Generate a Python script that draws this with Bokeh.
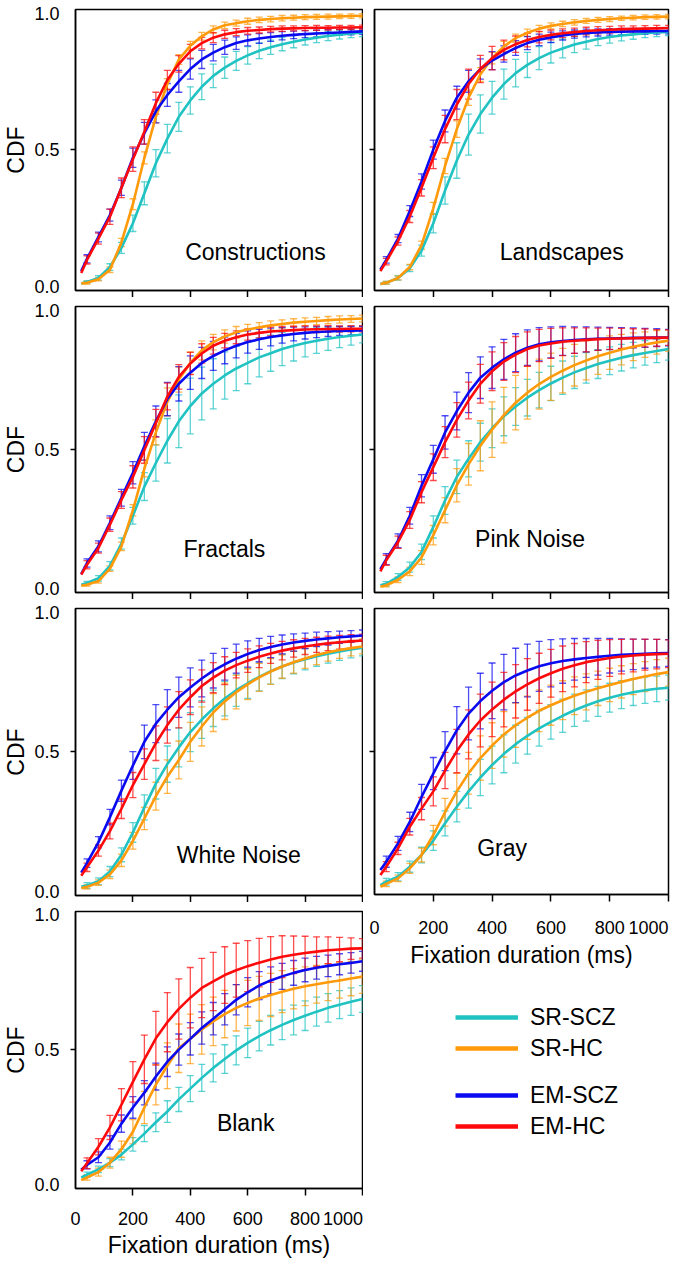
from bokeh.plotting import figure
from bokeh.models import (Range1d, FixedTicker, ColumnDataSource, Whisker, TeeHead,
                          Legend, LegendItem, NumeralTickFormatter)
from bokeh.layouts import column, row
from bokeh.embed import file_html
from bokeh.resources import INLINE
from bokeh.core.properties import value

FONT = "Liberation Sans"

# ---------------- data ----------------
X_CURVE = [20, 40, 80, 120, 160, 200, 240, 280, 320, 360, 400, 440, 480, 520,
           560, 600, 640, 680, 720, 760, 800, 840, 880, 920, 960, 1000]
X_BARS = [40, 80, 120, 160, 200, 240, 280, 320, 360, 400, 440, 480, 520,
          560, 600, 640, 680, 720, 760, 800, 840, 880, 920, 960, 1000]
X_TICKS = [0, 200, 400, 600, 800, 1000]
Y_TICKS = [0.0, 0.5, 1.0]

SERIES = ["SR-SCZ", "SR-HC", "EM-SCZ", "EM-HC"]
COLORS = ["#20c2c2", "#ff9a0a", "#0a0af0", "#ff0a0a"]
PANELS = ["Constructions", "Landscapes", "Fractals", "Pink Noise",
          "White Noise", "Gray", "Blank"]

# Constructions
CON_SR_SCZ = [0.010, 0.015, 0.030, 0.070, 0.140, 0.230, 0.340, 0.450, 0.540, 0.620, 0.680, 0.730, 0.770, 0.800, 0.825, 0.845, 0.862, 0.875, 0.886, 0.895, 0.903, 0.910, 0.916, 0.921, 0.925, 0.928]
CON_SR_HC = [0.010, 0.012, 0.025, 0.060, 0.160, 0.300, 0.470, 0.620, 0.740, 0.830, 0.880, 0.915, 0.940, 0.955, 0.963, 0.970, 0.975, 0.978, 0.981, 0.983, 0.985, 0.986, 0.987, 0.988, 0.989, 0.990]
CON_EM_SCZ = [0.055, 0.100, 0.180, 0.260, 0.360, 0.470, 0.560, 0.640, 0.700, 0.750, 0.795, 0.830, 0.855, 0.875, 0.890, 0.900, 0.907, 0.912, 0.917, 0.920, 0.923, 0.925, 0.927, 0.929, 0.931, 0.933]
CON_EM_HC = [0.048, 0.096, 0.174, 0.254, 0.360, 0.465, 0.565, 0.670, 0.755, 0.814, 0.860, 0.890, 0.910, 0.922, 0.930, 0.935, 0.938, 0.941, 0.943, 0.944, 0.945, 0.946, 0.946, 0.947, 0.947, 0.948]
CON_SR_SCZ_ERR = [0.005, 0.008, 0.012, 0.020, 0.030, 0.042, 0.050, 0.052, 0.053, 0.050, 0.047, 0.043, 0.039, 0.035, 0.032, 0.029, 0.026, 0.024, 0.022, 0.020, 0.018, 0.017, 0.016, 0.015, 0.014]
CON_SR_HC_ERR = [0.005, 0.006, 0.010, 0.015, 0.020, 0.022, 0.022, 0.020, 0.018, 0.016, 0.014, 0.013, 0.012, 0.011, 0.011, 0.010, 0.010, 0.010, 0.009, 0.009, 0.009, 0.009, 0.008, 0.008, 0.008]
CON_EM_SCZ_ERR = [0.015, 0.018, 0.022, 0.028, 0.035, 0.040, 0.042, 0.042, 0.040, 0.037, 0.033, 0.030, 0.026, 0.023, 0.020, 0.018, 0.016, 0.015, 0.014, 0.013, 0.012, 0.012, 0.011, 0.011, 0.011]
CON_EM_HC_ERR = [0.015, 0.020, 0.028, 0.036, 0.045, 0.045, 0.040, 0.035, 0.030, 0.025, 0.021, 0.018, 0.015, 0.013, 0.012, 0.011, 0.010, 0.010, 0.009, 0.009, 0.009, 0.008, 0.008, 0.008, 0.008]

# Landscapes
LAN_SR_SCZ = [0.008, 0.012, 0.030, 0.065, 0.130, 0.230, 0.350, 0.460, 0.555, 0.630, 0.690, 0.740, 0.780, 0.810, 0.835, 0.855, 0.870, 0.885, 0.895, 0.905, 0.912, 0.918, 0.922, 0.926, 0.929, 0.931]
LAN_SR_HC = [0.008, 0.012, 0.030, 0.070, 0.150, 0.285, 0.440, 0.575, 0.690, 0.775, 0.835, 0.878, 0.908, 0.928, 0.943, 0.953, 0.960, 0.966, 0.971, 0.975, 0.978, 0.981, 0.983, 0.985, 0.986, 0.987]
LAN_EM_SCZ = [0.060, 0.096, 0.174, 0.275, 0.383, 0.500, 0.605, 0.690, 0.750, 0.795, 0.826, 0.850, 0.872, 0.890, 0.902, 0.911, 0.918, 0.923, 0.927, 0.929, 0.931, 0.932, 0.933, 0.933, 0.934, 0.934]
LAN_EM_HC = [0.055, 0.090, 0.165, 0.255, 0.360, 0.470, 0.575, 0.665, 0.740, 0.795, 0.835, 0.865, 0.886, 0.901, 0.912, 0.920, 0.926, 0.930, 0.934, 0.937, 0.939, 0.941, 0.942, 0.943, 0.944, 0.945]
LAN_SR_SCZ_ERR = [0.005, 0.008, 0.012, 0.020, 0.035, 0.050, 0.065, 0.075, 0.070, 0.060, 0.055, 0.050, 0.046, 0.042, 0.038, 0.034, 0.030, 0.027, 0.024, 0.022, 0.020, 0.018, 0.016, 0.015, 0.014]
LAN_SR_HC_ERR = [0.005, 0.007, 0.010, 0.015, 0.022, 0.028, 0.030, 0.028, 0.025, 0.021, 0.018, 0.015, 0.013, 0.012, 0.011, 0.010, 0.010, 0.009, 0.009, 0.009, 0.008, 0.008, 0.008, 0.008, 0.008]
LAN_EM_SCZ_ERR = [0.012, 0.015, 0.020, 0.028, 0.035, 0.040, 0.042, 0.040, 0.037, 0.033, 0.030, 0.027, 0.024, 0.021, 0.019, 0.017, 0.015, 0.014, 0.013, 0.012, 0.012, 0.011, 0.011, 0.011, 0.010]
LAN_EM_HC_ERR = [0.012, 0.015, 0.022, 0.030, 0.040, 0.050, 0.055, 0.055, 0.050, 0.043, 0.036, 0.030, 0.025, 0.021, 0.018, 0.016, 0.015, 0.014, 0.013, 0.012, 0.012, 0.011, 0.011, 0.011, 0.010]

# Fractals
FRA_SR_SCZ = [0.012, 0.018, 0.035, 0.080, 0.160, 0.260, 0.365, 0.450, 0.530, 0.600, 0.655, 0.700, 0.735, 0.765, 0.790, 0.810, 0.830, 0.845, 0.860, 0.872, 0.882, 0.890, 0.897, 0.903, 0.908, 0.912]
FRA_SR_HC = [0.008, 0.012, 0.025, 0.070, 0.150, 0.280, 0.430, 0.560, 0.670, 0.750, 0.810, 0.855, 0.885, 0.905, 0.920, 0.930, 0.938, 0.945, 0.950, 0.955, 0.958, 0.961, 0.964, 0.966, 0.968, 0.970]
FRA_EM_SCZ = [0.050, 0.090, 0.150, 0.235, 0.325, 0.415, 0.510, 0.600, 0.680, 0.735, 0.775, 0.810, 0.835, 0.855, 0.872, 0.885, 0.895, 0.903, 0.909, 0.914, 0.918, 0.921, 0.923, 0.925, 0.926, 0.927]
FRA_EM_HC = [0.048, 0.084, 0.144, 0.228, 0.317, 0.400, 0.497, 0.593, 0.689, 0.760, 0.808, 0.844, 0.872, 0.890, 0.902, 0.912, 0.918, 0.923, 0.926, 0.928, 0.930, 0.931, 0.932, 0.932, 0.933, 0.933]
FRA_SR_SCZ_ERR = [0.006, 0.010, 0.015, 0.020, 0.030, 0.050, 0.065, 0.080, 0.095, 0.100, 0.095, 0.090, 0.085, 0.080, 0.075, 0.070, 0.065, 0.060, 0.055, 0.050, 0.046, 0.042, 0.038, 0.034, 0.030]
FRA_SR_HC_ERR = [0.005, 0.007, 0.010, 0.015, 0.020, 0.030, 0.045, 0.050, 0.045, 0.040, 0.034, 0.028, 0.024, 0.021, 0.019, 0.017, 0.016, 0.015, 0.014, 0.014, 0.013, 0.013, 0.013, 0.012, 0.012]
FRA_EM_SCZ_ERR = [0.015, 0.020, 0.025, 0.030, 0.040, 0.050, 0.055, 0.060, 0.062, 0.060, 0.056, 0.052, 0.048, 0.044, 0.040, 0.036, 0.032, 0.028, 0.025, 0.022, 0.020, 0.018, 0.016, 0.015, 0.014]
FRA_EM_HC_ERR = [0.015, 0.018, 0.024, 0.030, 0.040, 0.048, 0.050, 0.048, 0.044, 0.040, 0.035, 0.030, 0.026, 0.023, 0.020, 0.018, 0.016, 0.015, 0.014, 0.013, 0.012, 0.012, 0.011, 0.011, 0.011]

# Pink Noise
PIN_SR_SCZ = [0.010, 0.015, 0.040, 0.075, 0.130, 0.220, 0.315, 0.400, 0.465, 0.525, 0.575, 0.618, 0.653, 0.685, 0.712, 0.736, 0.757, 0.776, 0.792, 0.806, 0.818, 0.829, 0.838, 0.846, 0.853, 0.860]
PIN_SR_HC = [0.005, 0.010, 0.030, 0.060, 0.110, 0.190, 0.280, 0.370, 0.445, 0.512, 0.570, 0.622, 0.667, 0.703, 0.734, 0.760, 0.782, 0.802, 0.819, 0.834, 0.847, 0.858, 0.868, 0.876, 0.884, 0.890]
PIN_EM_SCZ = [0.068, 0.104, 0.170, 0.260, 0.368, 0.463, 0.560, 0.637, 0.703, 0.757, 0.793, 0.823, 0.847, 0.865, 0.877, 0.884, 0.889, 0.892, 0.895, 0.897, 0.898, 0.899, 0.900, 0.900, 0.901, 0.901]
PIN_EM_HC = [0.060, 0.100, 0.165, 0.245, 0.345, 0.435, 0.525, 0.605, 0.675, 0.735, 0.780, 0.815, 0.840, 0.860, 0.873, 0.880, 0.886, 0.890, 0.893, 0.895, 0.897, 0.898, 0.899, 0.900, 0.900, 0.901]
PIN_SR_SCZ_ERR = [0.008, 0.012, 0.018, 0.028, 0.040, 0.050, 0.060, 0.065, 0.068, 0.070, 0.070, 0.068, 0.066, 0.064, 0.062, 0.060, 0.058, 0.055, 0.052, 0.050, 0.048, 0.046, 0.044, 0.042, 0.040]
PIN_SR_HC_ERR = [0.006, 0.010, 0.015, 0.025, 0.035, 0.045, 0.060, 0.075, 0.090, 0.100, 0.100, 0.098, 0.095, 0.090, 0.085, 0.080, 0.075, 0.070, 0.065, 0.060, 0.055, 0.050, 0.046, 0.042, 0.038]
PIN_EM_SCZ_ERR = [0.020, 0.025, 0.030, 0.040, 0.050, 0.060, 0.068, 0.072, 0.075, 0.075, 0.072, 0.068, 0.064, 0.060, 0.056, 0.052, 0.048, 0.045, 0.042, 0.040, 0.038, 0.036, 0.034, 0.032, 0.030]
PIN_EM_HC_ERR = [0.018, 0.022, 0.030, 0.038, 0.048, 0.056, 0.062, 0.066, 0.070, 0.070, 0.068, 0.065, 0.062, 0.058, 0.054, 0.050, 0.046, 0.043, 0.040, 0.038, 0.036, 0.034, 0.032, 0.030, 0.028]

# White Noise
WHI_SR_SCZ = [0.015, 0.020, 0.035, 0.070, 0.130, 0.210, 0.300, 0.385, 0.455, 0.515, 0.570, 0.615, 0.655, 0.690, 0.720, 0.745, 0.768, 0.788, 0.805, 0.819, 0.831, 0.842, 0.851, 0.859, 0.866, 0.872]
WHI_SR_HC = [0.010, 0.015, 0.030, 0.060, 0.110, 0.180, 0.260, 0.340, 0.410, 0.470, 0.535, 0.590, 0.640, 0.680, 0.713, 0.741, 0.766, 0.787, 0.805, 0.820, 0.834, 0.846, 0.856, 0.864, 0.871, 0.877]
WHI_EM_SCZ = [0.066, 0.100, 0.175, 0.265, 0.360, 0.450, 0.535, 0.600, 0.650, 0.695, 0.730, 0.762, 0.790, 0.813, 0.833, 0.850, 0.864, 0.875, 0.884, 0.891, 0.897, 0.902, 0.906, 0.910, 0.913, 0.916]
WHI_EM_HC = [0.055, 0.085, 0.145, 0.215, 0.295, 0.380, 0.455, 0.530, 0.595, 0.650, 0.695, 0.735, 0.765, 0.790, 0.810, 0.826, 0.840, 0.852, 0.862, 0.870, 0.877, 0.883, 0.888, 0.892, 0.895, 0.898]
WHI_SR_SCZ_ERR = [0.010, 0.012, 0.018, 0.025, 0.035, 0.045, 0.055, 0.065, 0.070, 0.070, 0.068, 0.065, 0.062, 0.058, 0.054, 0.050, 0.046, 0.043, 0.040, 0.038, 0.036, 0.034, 0.032, 0.030, 0.029]
WHI_SR_HC_ERR = [0.008, 0.010, 0.015, 0.022, 0.030, 0.040, 0.050, 0.060, 0.068, 0.070, 0.070, 0.068, 0.065, 0.060, 0.055, 0.050, 0.046, 0.042, 0.039, 0.036, 0.034, 0.032, 0.030, 0.028, 0.027]
WHI_EM_SCZ_ERR = [0.015, 0.020, 0.028, 0.038, 0.050, 0.060, 0.068, 0.072, 0.072, 0.070, 0.066, 0.062, 0.057, 0.052, 0.047, 0.042, 0.038, 0.034, 0.031, 0.028, 0.026, 0.024, 0.022, 0.021, 0.020]
WHI_EM_HC_ERR = [0.015, 0.020, 0.028, 0.035, 0.045, 0.055, 0.062, 0.065, 0.065, 0.062, 0.058, 0.054, 0.050, 0.046, 0.042, 0.039, 0.036, 0.033, 0.031, 0.029, 0.027, 0.026, 0.025, 0.024, 0.023]

# Gray
GRA_SR_SCZ = [0.018, 0.030, 0.048, 0.084, 0.126, 0.178, 0.240, 0.300, 0.355, 0.405, 0.450, 0.490, 0.525, 0.555, 0.582, 0.605, 0.627, 0.647, 0.664, 0.679, 0.692, 0.703, 0.712, 0.719, 0.724, 0.728]
GRA_SR_HC = [0.012, 0.022, 0.042, 0.078, 0.126, 0.198, 0.280, 0.355, 0.420, 0.475, 0.520, 0.560, 0.593, 0.620, 0.645, 0.665, 0.683, 0.699, 0.713, 0.726, 0.738, 0.749, 0.759, 0.768, 0.777, 0.784]
GRA_EM_SCZ = [0.072, 0.102, 0.168, 0.245, 0.335, 0.419, 0.500, 0.575, 0.635, 0.680, 0.717, 0.748, 0.772, 0.790, 0.805, 0.816, 0.824, 0.830, 0.835, 0.839, 0.843, 0.846, 0.848, 0.850, 0.852, 0.853]
GRA_EM_HC = [0.054, 0.084, 0.150, 0.228, 0.293, 0.355, 0.430, 0.500, 0.560, 0.610, 0.650, 0.685, 0.715, 0.740, 0.762, 0.780, 0.796, 0.809, 0.820, 0.828, 0.835, 0.840, 0.844, 0.847, 0.849, 0.850]
GRA_SR_SCZ_ERR = [0.012, 0.015, 0.020, 0.028, 0.035, 0.045, 0.055, 0.060, 0.065, 0.068, 0.068, 0.068, 0.066, 0.064, 0.062, 0.060, 0.058, 0.056, 0.054, 0.052, 0.050, 0.048, 0.047, 0.046, 0.045]
GRA_SR_HC_ERR = [0.010, 0.012, 0.018, 0.025, 0.035, 0.050, 0.065, 0.075, 0.080, 0.082, 0.082, 0.080, 0.078, 0.075, 0.072, 0.070, 0.068, 0.065, 0.062, 0.060, 0.058, 0.056, 0.054, 0.052, 0.050]
GRA_EM_SCZ_ERR = [0.020, 0.025, 0.035, 0.045, 0.058, 0.070, 0.085, 0.095, 0.100, 0.100, 0.100, 0.098, 0.095, 0.090, 0.085, 0.080, 0.075, 0.070, 0.066, 0.062, 0.058, 0.055, 0.052, 0.050, 0.048]
GRA_EM_HC_ERR = [0.018, 0.022, 0.030, 0.040, 0.052, 0.065, 0.078, 0.088, 0.095, 0.098, 0.098, 0.096, 0.093, 0.090, 0.086, 0.082, 0.078, 0.074, 0.070, 0.066, 0.062, 0.059, 0.056, 0.053, 0.050]

# Blank
BLA_SR_SCZ = [0.025, 0.035, 0.055, 0.080, 0.110, 0.148, 0.188, 0.230, 0.270, 0.315, 0.355, 0.395, 0.432, 0.465, 0.497, 0.525, 0.550, 0.572, 0.592, 0.610, 0.626, 0.641, 0.655, 0.667, 0.678, 0.688]
BLA_SR_HC = [0.015, 0.025, 0.045, 0.080, 0.130, 0.195, 0.285, 0.370, 0.440, 0.505, 0.540, 0.575, 0.605, 0.632, 0.655, 0.673, 0.690, 0.703, 0.715, 0.726, 0.735, 0.743, 0.750, 0.757, 0.764, 0.771]
BLA_EM_SCZ = [0.054, 0.072, 0.100, 0.155, 0.225, 0.285, 0.340, 0.400, 0.455, 0.500, 0.540, 0.580, 0.615, 0.650, 0.685, 0.713, 0.738, 0.757, 0.772, 0.785, 0.796, 0.804, 0.811, 0.817, 0.822, 0.828]
BLA_EM_HC = [0.048, 0.078, 0.139, 0.211, 0.295, 0.380, 0.464, 0.542, 0.602, 0.651, 0.693, 0.729, 0.753, 0.777, 0.795, 0.810, 0.823, 0.835, 0.845, 0.852, 0.859, 0.864, 0.869, 0.872, 0.875, 0.876]
BLA_SR_SCZ_ERR = [0.010, 0.012, 0.015, 0.020, 0.025, 0.030, 0.035, 0.040, 0.045, 0.048, 0.050, 0.052, 0.053, 0.054, 0.055, 0.055, 0.055, 0.055, 0.055, 0.055, 0.054, 0.053, 0.052, 0.051, 0.050]
BLA_SR_HC_ERR = [0.010, 0.015, 0.020, 0.030, 0.045, 0.060, 0.075, 0.085, 0.090, 0.092, 0.092, 0.090, 0.088, 0.086, 0.084, 0.082, 0.080, 0.078, 0.075, 0.072, 0.070, 0.068, 0.066, 0.064, 0.062]
BLA_EM_SCZ_ERR = [0.015, 0.020, 0.025, 0.032, 0.040, 0.045, 0.050, 0.055, 0.058, 0.060, 0.060, 0.060, 0.058, 0.056, 0.054, 0.052, 0.050, 0.048, 0.046, 0.044, 0.042, 0.040, 0.039, 0.038, 0.037]
BLA_EM_HC_ERR = [0.020, 0.030, 0.045, 0.060, 0.075, 0.090, 0.100, 0.110, 0.112, 0.112, 0.110, 0.108, 0.105, 0.100, 0.095, 0.090, 0.085, 0.078, 0.070, 0.062, 0.055, 0.050, 0.045, 0.040, 0.036]

PANEL_CURVES = [
    [CON_SR_SCZ, CON_SR_HC, CON_EM_SCZ, CON_EM_HC],
    [LAN_SR_SCZ, LAN_SR_HC, LAN_EM_SCZ, LAN_EM_HC],
    [FRA_SR_SCZ, FRA_SR_HC, FRA_EM_SCZ, FRA_EM_HC],
    [PIN_SR_SCZ, PIN_SR_HC, PIN_EM_SCZ, PIN_EM_HC],
    [WHI_SR_SCZ, WHI_SR_HC, WHI_EM_SCZ, WHI_EM_HC],
    [GRA_SR_SCZ, GRA_SR_HC, GRA_EM_SCZ, GRA_EM_HC],
    [BLA_SR_SCZ, BLA_SR_HC, BLA_EM_SCZ, BLA_EM_HC],
]
PANEL_ERRS = [
    [CON_SR_SCZ_ERR, CON_SR_HC_ERR, CON_EM_SCZ_ERR, CON_EM_HC_ERR],
    [LAN_SR_SCZ_ERR, LAN_SR_HC_ERR, LAN_EM_SCZ_ERR, LAN_EM_HC_ERR],
    [FRA_SR_SCZ_ERR, FRA_SR_HC_ERR, FRA_EM_SCZ_ERR, FRA_EM_HC_ERR],
    [PIN_SR_SCZ_ERR, PIN_SR_HC_ERR, PIN_EM_SCZ_ERR, PIN_EM_HC_ERR],
    [WHI_SR_SCZ_ERR, WHI_SR_HC_ERR, WHI_EM_SCZ_ERR, WHI_EM_HC_ERR],
    [GRA_SR_SCZ_ERR, GRA_SR_HC_ERR, GRA_EM_SCZ_ERR, GRA_EM_HC_ERR],
    [BLA_SR_SCZ_ERR, BLA_SR_HC_ERR, BLA_EM_SCZ_ERR, BLA_EM_HC_ERR],
]

# ---------------- layout / style ----------------
LABEL_POS = [(627, 0.125), (637, 0.125), (519, 0.14), (529, 0.175),
             (569, 0.128), (434, 0.152), (593, 0.227)]
Y_LO, Y_HI = -0.016, 1.013
TICK_FS = "18px"
TEXT_FS = "23px"
END_LABEL_AT = 932   # the last tick label is drawn flush with the frame edge


def make_panel(i, width, height, mb, show_x, show_y, xstand=14, tstand=2):
    top, bottom, left, right = mb
    p = figure(width=width, height=height, x_range=Range1d(0, 1000),
               y_range=Range1d(Y_LO, Y_HI), output_backend="svg",
               toolbar_location=None, min_border_top=top,
               min_border_bottom=bottom, min_border_left=left,
               min_border_right=right)
    p.grid.visible = False
    p.outline_line_color = "black"
    p.outline_line_width = 1.5
    p.background_fill_color = "white"
    p.border_fill_color = "white"

    xa = p.xaxis[0]
    xa.major_tick_out = 0
    xa.major_tick_in = 0
    xa.minor_tick_out = 7
    xa.minor_tick_in = 0
    xa.minor_tick_line_color = "black"
    xa.minor_tick_line_width = 1.5
    xa.axis_line_color = "black"
    xa.axis_line_width = 1.5
    if show_x:
        label_ticks = X_TICKS[:-1] + [END_LABEL_AT]
        xa.ticker = FixedTicker(ticks=label_ticks, minor_ticks=X_TICKS[1:])
        xa.major_label_overrides = {END_LABEL_AT: str(X_TICKS[-1])}
        xa.major_label_text_font = FONT
        xa.major_label_text_font_size = TICK_FS
        xa.major_label_text_color = "black"
        xa.major_label_standoff = xstand
        xa.axis_label = "Fixation duration (ms)"
        xa.axis_label_text_font = FONT
        xa.axis_label_text_font_size = TEXT_FS
        xa.axis_label_text_font_style = "normal"
        xa.axis_label_text_color = "black"
        xa.axis_label_standoff = tstand
    else:
        xa.ticker = FixedTicker(ticks=X_TICKS, minor_ticks=X_TICKS[1:])
        xa.major_label_overrides = {t: "" for t in X_TICKS}
        xa.major_label_text_font_size = "0px"
        xa.major_label_standoff = 0

    ya = p.yaxis[0]
    ya.ticker = FixedTicker(ticks=Y_TICKS, minor_ticks=Y_TICKS[1:2])
    ya.formatter = NumeralTickFormatter(format="0.0")
    ya.major_tick_out = 0
    ya.major_tick_in = 0
    ya.minor_tick_out = 5
    ya.minor_tick_in = 0
    ya.minor_tick_line_color = "black"
    ya.minor_tick_line_width = 1.5
    ya.axis_line_color = "black"
    ya.axis_line_width = 1.5
    if show_y:
        ya.major_label_text_font = FONT
        ya.major_label_text_font_size = TICK_FS
        ya.major_label_text_color = "black"
        ya.major_label_standoff = 11
        ya.axis_label = "CDF"
        ya.axis_label_text_font = FONT
        ya.axis_label_text_font_size = TEXT_FS
        ya.axis_label_text_font_style = "normal"
        ya.axis_label_text_color = "black"
        ya.axis_label_standoff = 2
    else:
        ya.major_label_overrides = {t: "" for t in Y_TICKS}
        ya.major_label_text_font_size = "0px"
        ya.major_label_standoff = 0

    curves = PANEL_CURVES[i]
    errs = PANEL_ERRS[i]
    for curve, color in zip(curves, COLORS):
        p.line(X_CURVE, curve, line_color=color, line_width=2.6)
    for curve, err, color in zip(curves, errs, COLORS):
        mean = curve[1:]
        src = ColumnDataSource(dict(
            x=X_BARS,
            upper=[m + e for m, e in zip(mean, err)],
            lower=[m - e for m, e in zip(mean, err)]))
        w = Whisker(source=src, base="x", upper="upper", lower="lower",
                    line_color=color, line_alpha=0.72, line_width=1.3,
                    upper_head=TeeHead(size=7, line_color=color,
                                       line_alpha=0.72, line_width=1.3),
                    lower_head=TeeHead(size=7, line_color=color,
                                       line_alpha=0.72, line_width=1.3))
        p.add_layout(w)

    lx, ly = LABEL_POS[i]
    p.text(x=[lx], y=[ly], text=[PANELS[i]], text_font=value(FONT),
           text_font_size=TEXT_FS, text_align="center",
           text_baseline="middle", text_color="black")
    return p


LW, RW = 363, 307
GRAY_H = 371
f1L = make_panel(0, LW, 297, (9, 7, 67, 1), False, True)
f1R = make_panel(1, RW, 297, (9, 7, 11, 2), False, False)
f2L = make_panel(2, LW, 302, (9, 7, 67, 1), False, True)
f2R = make_panel(3, RW, 302, (9, 7, 11, 2), False, False)
f3L = make_panel(4, LW, 303, (9, 7, 67, 1), False, True)
f3R = make_panel(5, RW, GRAY_H, (9, 75, 11, 2), True, False, xstand=19, tstand=5)
f4L = make_panel(6, LW, 358, (9, 71, 67, 1), True, True, xstand=16, tstand=4)

# legend panel (below the Gray panel)
LG_H = 1260 - (297 + 302 + GRAY_H)
lg = figure(width=RW, height=LG_H, output_backend="svg",
            toolbar_location=None, min_border=0, x_range=Range1d(0, 1),
            y_range=Range1d(0, 1), x_axis_location=None, y_axis_location=None)
lg.grid.visible = False
lg.outline_line_color = None
lg.background_fill_color = "white"
lg.border_fill_color = "white"
nan = float("nan")
rends = [lg.line(x="x", y="y", source=ColumnDataSource(dict(x=[nan], y=[nan])),
                 line_color=c, line_width=4.5) for c in COLORS]


def make_legend(idx, loc):
    return Legend(items=[LegendItem(label=SERIES[k], renderers=[rends[k]]) for k in idx],
                  location=loc, padding=0, margin=0, spacing=3,
                  glyph_width=63, glyph_height=28, label_height=28,
                  label_standoff=12, label_text_font=FONT,
                  label_text_font_size=TEXT_FS, label_text_color="black",
                  border_line_color=None, background_fill_alpha=0)


lg.add_layout(make_legend([0, 1], (81, 198)))
lg.add_layout(make_legend([2, 3], (81, 120)))

root = row(column(f1L, f2L, f3L, f4L), column(f1R, f2R, f3R, lg))

open("out.html", "w").write(file_html(root, INLINE))
